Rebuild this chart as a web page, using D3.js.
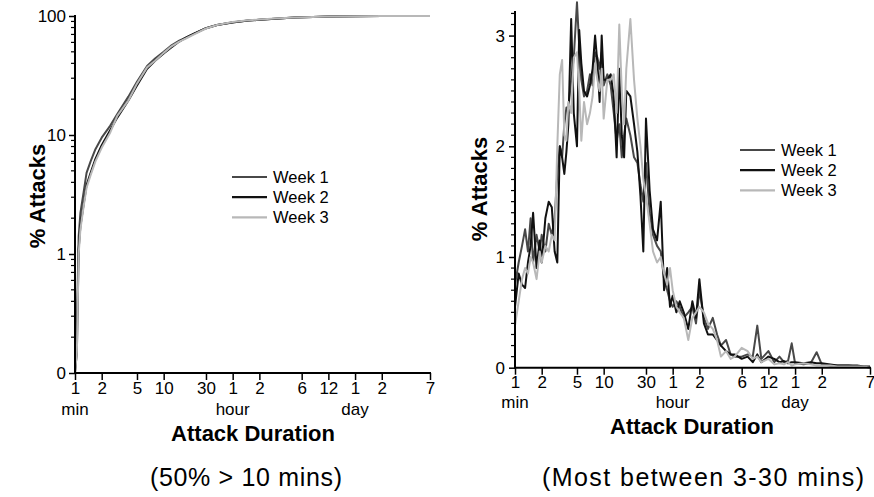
<!DOCTYPE html>
<html>
<head>
<meta charset="utf-8">
<script src="https://cdn.jsdelivr.net/npm/d3@7"></script>
<style>
  html, body { margin: 0; padding: 0; background: #fff; }
  svg { display: block; font-family: "Liberation Sans", Arial, Helvetica, sans-serif; }
</style>
</head>
<body>
<svg id="chart" width="874" height="497"></svg>
<script>
// ---- shared x axis: attack duration in minutes (log scale) ----
const durationTicks = [1, 2, 5, 10, 30, 60, 120, 360, 720, 1440, 2880, 10080];
const durationTickLabels = ["1", "2", "5", "10", "30", "1", "2", "6", "12", "1", "2", "7"];
const unitTicks = [1, 60, 1440];
const unitLabels = ["min", "hour", "day"];

const seriesNames = ["Week 1", "Week 2", "Week 3"];
const seriesColors = ["#484848", "#111111", "#b8b8b8"];

// ---- left panel: cumulative % of attacks ----
const cdfMinutes = [1, 1.05, 1.1, 1.15, 1.25, 1.35, 1.5, 1.7, 2, 2.5, 3, 4, 5, 6.5, 8, 10, 12, 15, 18, 22, 30, 40, 60, 90, 120, 180, 300, 480, 720, 1440, 2880, 5760, 10080];
const cdfWeek1 = [0, 0.25, 1.4, 2.2, 3.3, 4.8, 6.0, 7.6, 9.5, 12, 15, 21, 28, 38, 44, 50, 56, 62, 66, 71, 79, 84, 88.5, 91.5, 93, 95, 97, 98.2, 98.9, 99.5, 99.8, 99.95, 100];
const cdfWeek2 = [0, 0.15, 1.1, 1.7, 2.6, 3.8, 4.8, 6.3, 8.2, 11, 14, 19.5, 26, 36, 42, 48.5, 54, 61, 66, 71, 79, 84, 88, 91.5, 93, 95, 97, 98.2, 98.9, 99.5, 99.8, 99.95, 100];
const cdfWeek3 = [0, 0.15, 1.0, 1.6, 2.5, 3.6, 4.6, 6.0, 7.8, 10.5, 14.5, 19.5, 27, 37, 42, 49, 55, 61, 65, 70, 78.5, 84, 89, 92, 93.5, 95.5, 97.2, 98.3, 99, 99.6, 99.8, 99.95, 100];
const cdfTicks = [0.1, 1, 10, 100];
const cdfTickLabels = ["0", "1", "10", "100"];
const cdfMinorTicks = [0.2, 0.3, 0.4, 0.5, 0.6, 0.7, 0.8, 0.9, 2, 3, 4, 5, 6, 7, 8, 9, 20, 30, 40, 50, 60, 70, 80, 90];

// ---- right panel: % of attacks per duration bin ----
const binMinutes = [
  1, 1.1, 1.2, 1.3, 1.4, 1.5, 1.6, 1.75, 1.9, 2.0, 2.2, 2.4, 2.6, 2.8, 3.0,
  3.2, 3.4, 3.6, 3.8, 4.0, 4.3, 4.6, 5.0, 5.3, 5.6, 6.0, 6.5, 7.0, 7.5, 8.0, 8.5, 9.0, 9.5, 10,
  11, 12, 13, 14, 15, 16, 17, 18, 20, 22, 24, 26, 28, 30,
  33, 36, 40, 44, 48, 52, 56, 60, 66, 72, 80, 90, 100, 110, 120,
  135, 150, 170, 190, 210, 240, 270, 300, 360, 420, 480, 540, 600, 720, 840, 960, 1080, 1200, 1320, 1440,
  1800, 2160, 2520, 2880, 3600, 4320, 5760, 7200, 8640, 10080
];
const pdfWeek1 = [
  0.75, 0.95, 1.1, 1.25, 1.05, 1.35, 0.95, 1.2, 1.05, 1.2, 1.05, 1.3, 1.2, 1.35, 1.75,
  2.0, 1.9, 2.2, 2.35, 2.35, 2.6, 2.8, 3.3, 2.9, 2.6, 2.45, 2.5, 2.65, 2.55, 2.85, 2.8, 2.7, 2.85, 2.55,
  2.65, 2.55, 2.3, 2.05, 2.2, 1.9, 2.1, 2.25, 2.1, 1.9, 1.85, 1.65, 1.5, 1.85,
  1.4, 1.2, 1.1, 1.05, 0.8, 0.7, 0.6, 0.55, 0.6, 0.55, 0.45, 0.5, 0.55, 0.4, 0.7,
  0.45, 0.35, 0.45, 0.3, 0.2, 0.25, 0.12, 0.1, 0.1, 0.12, 0.1, 0.38, 0.08, 0.15, 0.05, 0.1, 0.05, 0.06, 0.22, 0.04,
  0.03, 0.04, 0.14, 0.03, 0.02, 0.02, 0.02, 0.01, 0.01, 0.0
];
const pdfWeek2 = [
  0.55, 0.85, 0.75, 0.72, 0.95, 1.1, 1.4, 0.9, 1.15, 0.95, 1.35, 1.5, 1.45, 1.05, 0.95,
  2.0, 1.9, 1.75, 1.95, 2.2, 3.15, 2.3, 2.0, 3.05, 2.75, 2.5, 2.45, 2.55, 2.7, 3.0, 2.75, 2.4, 3.0, 2.6,
  2.6, 2.65, 2.45, 1.9, 2.7, 2.1, 1.9, 2.5, 2.45, 2.2, 1.95, 1.55, 1.05, 2.25,
  1.6, 1.25, 1.15, 1.5, 0.7, 0.9, 0.55, 0.65, 0.5, 0.6, 0.5, 0.35, 0.6, 0.45, 0.8,
  0.4, 0.3, 0.3, 0.25, 0.2, 0.15, 0.12, 0.12, 0.08, 0.1, 0.05, 0.12, 0.05, 0.1, 0.08, 0.05, 0.06, 0.04, 0.05, 0.05,
  0.04, 0.05, 0.04, 0.04, 0.03, 0.02, 0.02, 0.02, 0.01, 0.01
];
const pdfWeek3 = [
  0.38, 0.6, 0.8, 0.9, 0.85, 1.0, 0.95, 0.8, 1.05, 0.95, 1.1, 1.05, 1.2, 1.15, 2.0,
  2.65, 2.78, 2.1, 2.05, 2.4, 2.3, 2.8, 2.85, 2.5, 2.05, 2.4, 2.2, 2.3, 2.45, 2.75, 2.6, 2.5, 2.7, 2.25,
  2.6, 2.6, 2.65, 2.3, 3.1, 2.5, 2.2, 2.7, 3.15, 2.6, 2.25, 2.0, 1.7, 1.55,
  1.3, 1.05, 0.95, 1.0, 0.85, 0.75, 0.9, 0.7, 0.55, 0.5, 0.45, 0.25, 0.45, 0.5, 0.55,
  0.5, 0.4, 0.35, 0.25, 0.1, 0.15, 0.08, 0.1, 0.18, 0.15, 0.08, 0.1, 0.05, 0.08, 0.03, 0.04, 0.03, 0.05, 0.02, 0.03,
  0.04, 0.03, 0.02, 0.02, 0.02, 0.01, 0.01, 0.01, 0.01, 0.0
];
const pdfTicks = [0, 1, 2, 3];
const pdfTickLabels = ["0", "1", "2", "3"];
const pdfMinorTicks = d3.range(1, 33).map(i => i / 10).filter(v => Math.abs(v - Math.round(v)) > 1e-9);

const captions = ["(50% > 10 mins)", "(Most between 3-30 mins)"];
const yTitle = "% Attacks";
const xTitle = "Attack Duration";

const svg = d3.select("#chart");

function drawPanel(opts) {
  const g = svg.append("g");
  const x = d3.scaleLog().domain([1, 10080]).range([opts.left, opts.right]);
  const y = opts.y;
  const base = opts.bottom;

  // series
  const line = d3.line()
    .x(d => x(d[0]))
    .y(d => y(opts.clamp(d[1])));
  opts.series.forEach((vals, i) => {
    g.append("path")
      .datum(opts.xs.map((m, j) => [m, vals[j]]))
      .attr("fill", "none")
      .attr("stroke", seriesColors[i])
      .attr("stroke-width", 2)
      .attr("stroke-linejoin", "round")
      .attr("d", line);
  });

  // x axis
  const xAxis = d3.axisBottom(x)
    .tickValues(durationTicks)
    .tickFormat((d, i) => durationTickLabels[i])
    .tickSizeInner(7).tickSizeOuter(0).tickPadding(3);
  const xg = g.append("g").attr("transform", `translate(0,${base})`).call(xAxis);
  xg.select(".domain").attr("stroke", "#000").attr("stroke-width", 2)
    .attr("d", `M${opts.left - 1},0H${opts.right + 1}`);
  xg.selectAll(".tick line").attr("stroke", "#000").attr("stroke-width", 1.5);
  xg.selectAll(".tick text").attr("font-size", 17).attr("fill", "#000")
    .attr("font-family", "Liberation Sans, Arial, sans-serif")
    .attr("dy", null).attr("y", 20.5);

  // unit labels under the duration ticks
  g.selectAll("text.unit").data(unitTicks).join("text")
    .attr("class", "unit")
    .attr("x", d => x(d)).attr("y", base + opts.unitOffset)
    .attr("text-anchor", "middle").attr("font-size", 17)
    .text((d, i) => unitLabels[i]);

  // y axis
  const yAxis = d3.axisLeft(y)
    .tickValues(opts.yTicks)
    .tickFormat((d, i) => opts.yTickLabels[i])
    .tickSizeInner(6).tickSizeOuter(0).tickPadding(opts.yPad);
  const yg = g.append("g").attr("transform", `translate(${opts.left},0)`).call(yAxis);
  yg.select(".domain").attr("stroke", "#000").attr("stroke-width", 2)
    .attr("d", `M0,${opts.yTop}V${base + 1}`);
  yg.selectAll(".tick line").attr("stroke", "#000").attr("stroke-width", 1.5);
  yg.selectAll(".tick text").attr("font-size", 17).attr("fill", "#000")
    .attr("font-family", "Liberation Sans, Arial, sans-serif");

  // minor y ticks
  g.selectAll("line.minor").data(opts.yMinor).join("line")
    .attr("class", "minor")
    .attr("x1", opts.left - 4).attr("x2", opts.left)
    .attr("y1", d => y(d)).attr("y2", d => y(d))
    .attr("stroke", "#000").attr("stroke-width", 1.2);

  // titles
  g.append("text")
    .attr("transform", `translate(${opts.yTitleX},${opts.yTitleY}) rotate(-90)`)
    .attr("text-anchor", "middle").attr("font-size", 22).attr("font-weight", "bold")
    .text(yTitle);
  g.append("text")
    .attr("x", opts.xTitleX).attr("y", opts.xTitleY)
    .attr("text-anchor", "middle").attr("font-size", 22).attr("font-weight", "bold")
    .text(xTitle);

  // legend
  const lg = g.append("g");
  seriesNames.forEach((name, i) => {
    const ly = opts.legendY + i * 20.2;
    lg.append("line")
      .attr("x1", opts.legendX).attr("x2", opts.legendX + 35)
      .attr("y1", ly).attr("y2", ly)
      .attr("stroke", seriesColors[i]).attr("stroke-width", 2.2);
    lg.append("text")
      .attr("x", opts.legendX + 41).attr("y", ly + 6)
      .attr("font-size", 16.5)
      .text(name);
  });

  // caption, set in a narrow face spread to its column
  g.append("text")
    .attr("x", opts.captionX).attr("y", 486)
    .attr("text-anchor", "middle").attr("font-size", 25)
    .attr("font-family", "'Liberation Sans Narrow', 'Arial Narrow', 'Liberation Sans', sans-serif")
    .attr("textLength", opts.captionW).attr("lengthAdjust", "spacing")
    .text(opts.caption);
}

// left: cumulative distribution on a log percentage scale (0 shown at the 0.1 level)
const yLeft = d3.scaleLog().domain([0.1, 100]).range([373, 16]);
drawPanel({
  left: 75, right: 430, bottom: 373, yTop: 15,
  y: yLeft, clamp: v => Math.max(v, 0.1),
  xs: cdfMinutes, series: [cdfWeek1, cdfWeek2, cdfWeek3],
  yTicks: cdfTicks, yTickLabels: cdfTickLabels, yMinor: cdfMinorTicks, yPad: 3,
  unitOffset: 42,
  yTitleX: 45, yTitleY: 196, xTitleX: 253, xTitleY: 441,
  legendX: 232, legendY: 177,
  caption: captions[0], captionX: 246, captionW: 192
});

// right: share of attacks per duration bin on a linear scale
const yRight = d3.scaleLinear().domain([0, 3.222]).range([367.7, 11]);
drawPanel({
  left: 515, right: 870, bottom: 367.7, yTop: 11,
  y: yRight, clamp: v => v,
  xs: binMinutes, series: [pdfWeek1, pdfWeek2, pdfWeek3],
  yTicks: pdfTicks, yTickLabels: pdfTickLabels, yMinor: pdfMinorTicks, yPad: 4,
  unitOffset: 40,
  yTitleX: 487, yTitleY: 189, xTitleX: 692, xTitleY: 434,
  legendX: 740, legendY: 150,
  caption: captions[1], captionX: 703, captionW: 322
});
</script>
</body>
</html>
